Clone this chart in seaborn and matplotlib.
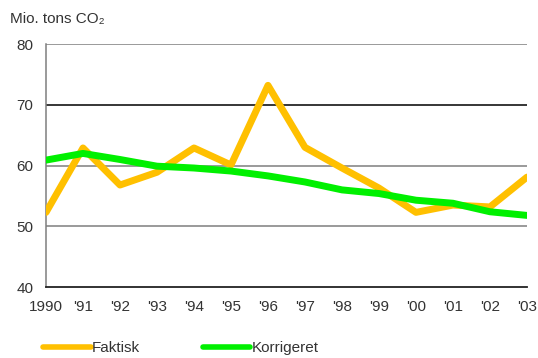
import numpy as np
import pandas as pd
import seaborn as sns
import matplotlib.pyplot as plt

# data
years = list(range(1990, 2004))
tick_labels = ["1990", "'91", "'92", "'93", "'94", "'95", "'96", "'97",
               "'98", "'99", "'00", "'01", "'02", "'03"]
faktisk = [52.3, 62.9, 56.8, 58.9, 62.9, 60.1, 73.2, 63.0,
           59.6, 56.3, 52.3, 53.5, 53.2, 58.1]
korrigeret = [60.9, 62.0, 61.0, 59.9, 59.6, 59.1, 58.3, 57.3,
              56.0, 55.4, 54.3, 53.8, 52.4, 51.8]

df = pd.DataFrame({"year": years * 2,
                   "value": faktisk + korrigeret,
                   "serie": ["Faktisk"] * len(years) + ["Korrigeret"] * len(years)})

sns.set_style("white")
plt.rcParams["font.family"] = ["Liberation Sans", "DejaVu Sans"]

fig = plt.figure(figsize=(5.38, 3.58), dpi=100)
ax = fig.add_axes([0.0855, 0.198, 0.894, 0.679])

# grid lines
for yv, col in [(50, "#7f7f7f"), (60, "#7f7f7f"), (70, "#000000"), (80, "#7f7f7f")]:
    ax.axhline(yv, color=col, lw=1.1, zorder=1)

sns.lineplot(data=df, x="year", y="value", hue="serie",
             palette={"Faktisk": "#FFC000", "Korrigeret": "#00F000"},
             linewidth=5, ax=ax, legend=False, zorder=3)

ax.set_xlim(1990, 2003)
ax.set_ylim(40, 80)
ax.set_xticks(years)
ax.set_xticklabels(tick_labels)
ax.set_yticks([40, 50, 60, 70, 80])
ax.set_xlabel("")
ax.set_ylabel("")
ax.tick_params(axis="both", direction="out", length=4, width=1,
               labelsize=11, colors="#333333", pad=5)
ax.tick_params(axis="y", color="#555555", pad=5)

for s in ["top", "right"]:
    ax.spines[s].set_visible(False)
ax.spines["left"].set_color("#7f7f7f")
ax.spines["bottom"].set_color("#222222")
ax.spines["left"].set_linewidth(1.1)
ax.spines["bottom"].set_linewidth(1.3)

fig.text(0.018, 0.947, "Mio. tons CO₂", fontsize=11, color="#333333", va="center")

# legend
handles = [plt.Line2D([], [], color="#FFC000", lw=4),
           plt.Line2D([], [], color="#00F000", lw=4)]
fig.legend(handles, ["Faktisk", "Korrigeret"], loc="center left",
           bbox_to_anchor=(0.055, 0.028), ncol=2, frameon=False,
           fontsize=11, handlelength=3.1, handletextpad=0.1,
           columnspacing=4.1, labelcolor="#333333")

fig.savefig("out.png", dpi=100)
